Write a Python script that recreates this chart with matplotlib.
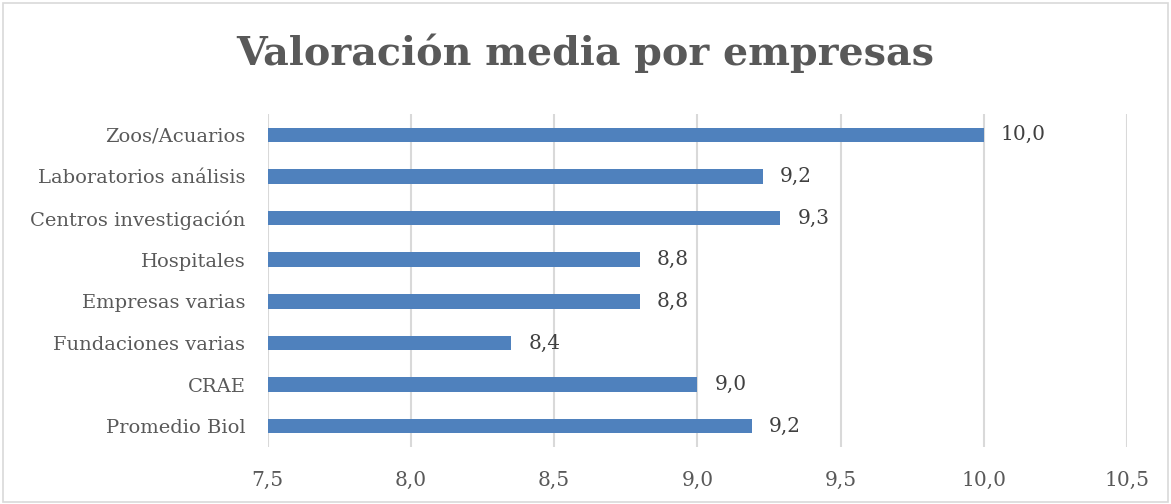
import matplotlib
matplotlib.use("Agg")
import matplotlib.pyplot as plt
from matplotlib.patches import Rectangle

categories = ["Zoos/Acuarios", "Laboratorios análisis", "Centros investigación",
              "Hospitales", "Empresas varias", "Fundaciones varias", "CRAE", "Promedio Biol"]
values = [10.0, 9.23, 9.29, 8.80, 8.80, 8.35, 9.00, 9.19]
value_labels = ["10,0", "9,2", "9,3", "8,8", "8,8", "8,4", "9,0", "9,2"]
xticks = [7.5, 8.0, 8.5, 9.0, 9.5, 10.0, 10.5]
xtick_labels = ["7,5", "8,0", "8,5", "9,0", "9,5", "10,0", "10,5"]
title = "Valoración media por empresas"

W, H = 1171, 504
fig = plt.figure(figsize=(W / 100, H / 100), dpi=100)
fig.patches.append(Rectangle((3 / W, 2 / H), (W - 6) / W, (H - 5) / H, transform=fig.transFigure,
                             fill=False, edgecolor="#d9d9d9", linewidth=1.2))

left, right = 267.7, 1127
top, bottom = 114, 447
ax = fig.add_axes([left / W, 1 - bottom / H, (right - left) / W, (bottom - top) / H])

font = "DejaVu Serif"
ypos = list(range(len(categories)))
ax.barh(ypos, [v - 7.5 for v in values], left=7.5, height=0.35, color="#4f81bd", zorder=3)
ax.set_ylim(len(categories) - 0.5, -0.5)
ax.set_xlim(7.5, 10.5)
ax.set_xticks(xticks)
ax.set_xticklabels(xtick_labels, fontsize=14.5, color="#595959", family=font)
ax.set_yticks(ypos)
ax.set_yticklabels(categories, fontsize=14, color="#595959", family=font)
ax.tick_params(axis="both", length=0)
ax.tick_params(axis="x", pad=17)
ax.tick_params(axis="y", pad=16)
ax.grid(axis="x", color="#d9d9d9", linewidth=1.5, zorder=0)
for s in ax.spines.values():
    s.set_visible(False)

for y, v, lab in zip(ypos, values, value_labels):
    ax.annotate(lab, (v, y), xytext=(17, 0), textcoords="offset pixels",
                va="center", ha="left", fontsize=14.5, color="#404040", family=font)

fig.text(0.5, 1 - 53 / H, title, ha="center", va="center", fontsize=28.5, fontweight="bold",
         color="#595959", family=font)

fig.savefig("out.png", dpi=100)
